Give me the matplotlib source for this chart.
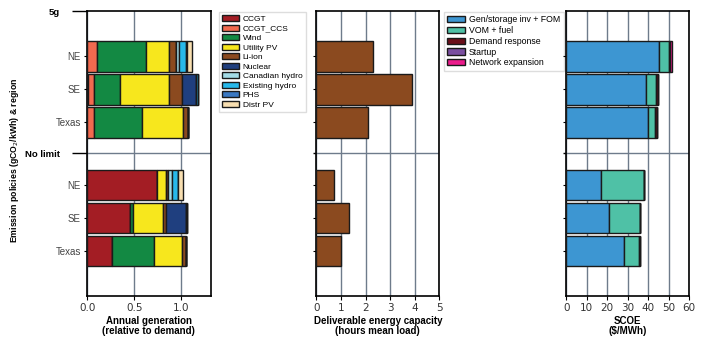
#Stacked horizontal bars: generation mix, storage energy and SCOE by policy & region

import numpy as np
import matplotlib.pyplot as plt
from matplotlib.patches import Patch
from matplotlib.ticker import FixedLocator

###*******  DATA  *********###
regions = ['NE', 'SE', 'Texas']
policies = ['5g', 'No limit']

#order of bars: 5g NE, SE, Texas, then No limit NE, SE, Texas
gen_techs = ['CCGT', 'CCGT_CCS', 'Wind', 'Utility PV', 'Li-ion', 'Nuclear',
             'Canadian hydro', 'Existing hydro', 'PHS', 'Distr PV']
ccgt = [0.0, 0.012, 0.0, 0.745, 0.457, 0.266]
ccgt_ccs = [0.106, 0.057, 0.074, 0.0, 0.0, 0.0]
wind = [0.52, 0.28, 0.51, 0.0, 0.032, 0.447]
utility_pv = [0.245, 0.518, 0.436, 0.096, 0.319, 0.298]
li_ion = [0.067, 0.138, 0.053, 0.012, 0.032, 0.035]
nuclear = [0.0, 0.149, 0.0, 0.0, 0.206, 0.0]
canadian_hydro = [0.039, 0.0, 0.0, 0.043, 0.0, 0.0]
existing_hydro = [0.071, 0.018, 0.0, 0.071, 0.015, 0.0]
phs = [0.015, 0.0, 0.0, 0.0, 0.0, 0.0]
distr_pv = [0.053, 0.0, 0.0, 0.053, 0.0, 0.0]
gen_colors = ['#a31d24', '#f26a4f', '#138943', '#f7e71d', '#8b4a1f', '#1f3f7f',
              '#a3dbe6', '#27b8ea', '#3a78c2', '#f7deb0']

storage_hours = [2.29, 3.88, 2.09, 0.71, 1.32, 0.99]

cost_parts = ['Gen/storage inv + FOM', 'VOM + fuel', 'Demand response',
              'Startup', 'Network expansion']
gen_inv = [45.4, 39.0, 40.0, 17.1, 21.0, 28.3]
vom_fuel = [4.55, 4.9, 3.4, 21.0, 15.1, 7.2]
demand_resp = [0.4, 0.6, 0.6, 0.0, 0.0, 0.6]
startup = [0.0, 0.0, 0.0, 0.0, 0.0, 0.0]
network_exp = [1.3, 0.0, 0.0, 0.0, 0.0, 0.0]
cost_colors = ['#3d96d2', '#4fc1a6', '#6b0f1a', '#7a4fa0', '#ec1c8c']

gen_data = [ccgt, ccgt_ccs, wind, utility_pv, li_ion, nuclear,
            canadian_hydro, existing_hydro, phs, distr_pv]
cost_data = [gen_inv, vom_fuel, demand_resp, startup, network_exp]

#bar positions (top to bottom, inverted axis)
group_pos = [0.0, 4.30]
bar_pos = [1.37, 2.37, 3.37, 5.27, 6.27, 7.27]
bar_h = 0.92
y_bottom = 8.64

grid_c = '#6e7b8b'
narrow = 'Liberation Sans'

fig = plt.figure(figsize=(7.12, 3.5), dpi=100)
ax1 = fig.add_axes([87.3/712, 53.7/350, 123.2/712, 285/350])
ax2 = fig.add_axes([316.3/712, 53.7/350, 123/712, 285/350])
ax3 = fig.add_axes([566.3/712, 53.7/350, 123/712, 285/350])


def stack(ax, series, colors):
    left = np.zeros(len(bar_pos))
    for vals, c in zip(series, colors):
        vals = np.array(vals)
        ax.barh(bar_pos, vals, left=left, height=bar_h, color=c,
                edgecolor='#1a1a1a', linewidth=1.0, zorder=3)
        left = left + vals


stack(ax1, gen_data, gen_colors)
ax2.barh(bar_pos, storage_hours, height=bar_h, color='#8b4a1f',
         edgecolor='#1a1a1a', linewidth=1.0, zorder=3)
stack(ax3, cost_data, cost_colors)

xlims = [(0, 1.31), (0, 5), (0, 60)]
xticks = [[0, 0.5, 1.0], [0, 1, 2, 3, 4, 5], [0, 10, 20, 30, 40, 50, 60]]
xlabels = ['Annual generation\n(relative to demand)',
           'Deliverable energy capacity\n(hours mean load)',
           'SCOE\n($/MWh)']

for ax, xl, xt, lab in zip([ax1, ax2, ax3], xlims, xticks, xlabels):
    ax.set_xlim(xl)
    ax.set_ylim(y_bottom, 0)
    ax.set_xticks(xt)
    if ax is ax1:
        ax.set_xticklabels(['0.0', '0.5', '1.0'])
    ax.tick_params(axis='x', labelsize=7.5, labelcolor='#333333', length=3, pad=2)
    ax.set_xlabel(lab, fontsize=7, fontweight='bold', family=narrow,
                  linespacing=0.95, labelpad=2)
    ax.grid(axis='x', color=grid_c, lw=1.0, zorder=0)
    ax.axhline(group_pos[1], color=grid_c, lw=1.0, zorder=1)
    ax.set_yticks(bar_pos)
    ax.tick_params(axis='y', length=2.5, labelsize=7, labelcolor='#444444', pad=2)
    for s in ax.spines.values():
        s.set_linewidth(1.2)
    if ax is ax1:
        ax.set_yticklabels(regions * 2, family=narrow)
        ax.yaxis.set_minor_locator(FixedLocator(group_pos))
        ax.set_yticklabels(policies, minor=True, fontsize=6.8, fontweight='bold',
                           family=narrow)
        ax.tick_params(axis='y', which='minor', length=11, width=1.0, pad=9,
                       labelcolor='black')
    else:
        ax.set_yticklabels([])
        ax.yaxis.set_minor_locator(FixedLocator([group_pos[1]]))
        ax.tick_params(axis='y', which='minor', length=2.5, width=1.0)

fig.text(15/712, 1 - 160/350, 'Emission policies (gCO$_2$/kWh) & region',
         rotation=90, ha='center', va='center', fontsize=6.3, fontweight='bold',
         family=narrow)

#legends
h1 = [Patch(facecolor=c, edgecolor='#1a1a1a', lw=1.0, label=t)
      for t, c in zip(gen_techs, gen_colors)]
ax1.legend(handles=h1, loc='upper left', bbox_to_anchor=(1.065, 0.998),
           borderaxespad=0, handlelength=2.0, handleheight=0.7,
           labelspacing=0.2, handletextpad=0.5, borderpad=0.4,
           fancybox=False, edgecolor='#dddddd', framealpha=1,
           prop={'family': narrow, 'size': 6.0})

h3 = [Patch(facecolor=c, edgecolor='#1a1a1a', lw=1.0, label=t)
      for t, c in zip(cost_parts, cost_colors)]
ax2.legend(handles=h3, loc='upper left', bbox_to_anchor=(1.035, 0.998),
           borderaxespad=0, handlelength=2.0, handleheight=0.7,
           labelspacing=0.2, handletextpad=0.5, borderpad=0.4,
           fancybox=False, edgecolor='#dddddd', framealpha=1,
           prop={'family': narrow, 'size': 6.3})

plt.savefig('out.png', dpi=100)
